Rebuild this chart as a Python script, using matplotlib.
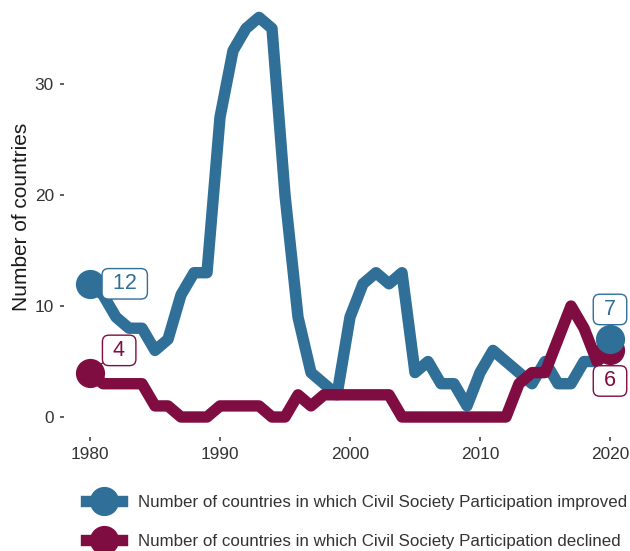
import numpy as np
import matplotlib
matplotlib.use("Agg")
import matplotlib.pyplot as plt
from matplotlib.lines import Line2D

plt.rcParams['font.family'] = ['Liberation Sans', 'DejaVu Sans']

# data
years = np.arange(1980, 2021)
improved = [12, 11, 9, 8, 8, 6, 7, 11, 13, 13,
            27, 33, 35, 36, 35, 20, 9, 4, 3, 2,
            9, 12, 13, 12, 13, 4, 5, 3, 3, 1,
            4, 6, 5, 4, 3, 5, 3, 3, 5, 5,
            7]
declined = [4, 3, 3, 3, 3, 1, 1, 0, 0, 0,
            1, 1, 1, 1, 0, 0, 2, 1, 2, 2,
            2, 2, 2, 2, 0, 0, 0, 0, 0, 0,
            0, 0, 0, 3, 4, 4, 7, 10, 8, 5,
            6]
lab_improved = "Number of countries in which Civil Society Participation improved"
lab_declined = "Number of countries in which Civil Society Participation declined"

blue = "#2f6f98"
red = "#800d42"
txt = "#333333"

fig = plt.figure(figsize=(6.3, 5.51), dpi=100)
ax = fig.add_axes([64/630, 114/551, 572/630, 439.6/551])

ax.plot(years, improved, color=blue, lw=8.2, solid_joinstyle='round', solid_capstyle='butt', zorder=2)
ax.plot(years, declined, color=red, lw=8.2, solid_joinstyle='round', solid_capstyle='butt', zorder=3)

# end points (first and last year)
ends = [0, len(years) - 1]
ax.plot(years[ends], np.array(declined)[ends], 'o', color=red, ms=20, zorder=4)
ax.plot(years[ends], np.array(improved)[ends], 'o', color=blue, ms=20, zorder=5)

# labels at the ends, offsets in points
def label(x, y, col, dx, dy):
    ax.annotate(" %d " % y, xy=(x, y), xytext=(dx, dy), textcoords='offset points',
                ha='center', va='center', fontsize=15.5, color=col, zorder=6,
                bbox=dict(boxstyle='round,pad=0.22,rounding_size=0.3', fc='white', ec=col, lw=1),
                arrowprops=dict(arrowstyle='-', color=col, lw=1, shrinkA=0, shrinkB=10))

label(years[0], improved[0], blue, 25, 0)
label(years[0], declined[0], red, 21, 16)
label(years[-1], improved[-1], blue, 0, 21.5)
label(years[-1], declined[-1], red, 0, -22)

ax.set_xlim(1978, 2022)
ax.set_ylim(-1.8, 37.8)
ax.set_xticks([1980, 1990, 2000, 2010, 2020])
ax.set_yticks([0, 10, 20, 30])
for s in ax.spines.values():
    s.set_visible(False)
ax.tick_params(axis='both', length=3, width=1.1, color=txt, labelcolor=txt, labelsize=12.4, pad=4.3)
ax.set_ylabel("Number of countries", fontsize=15, color="#1a1a1a")
ax.yaxis.set_label_coords(-0.058, 0.5)

handles = [Line2D([], [], color=blue, lw=8.2, marker='o', ms=20),
           Line2D([], [], color=red, lw=8.2, marker='o', ms=20)]
fig.legend(handles, [lab_improved, lab_declined], loc='center left',
           bbox_to_anchor=(86/630, 29/551), frameon=False, fontsize=12.2,
           handlelength=2.1, handletextpad=0.95, labelspacing=1.46,
           borderpad=0, borderaxespad=0, labelcolor=txt)

plt.savefig("out.png", dpi=100)
